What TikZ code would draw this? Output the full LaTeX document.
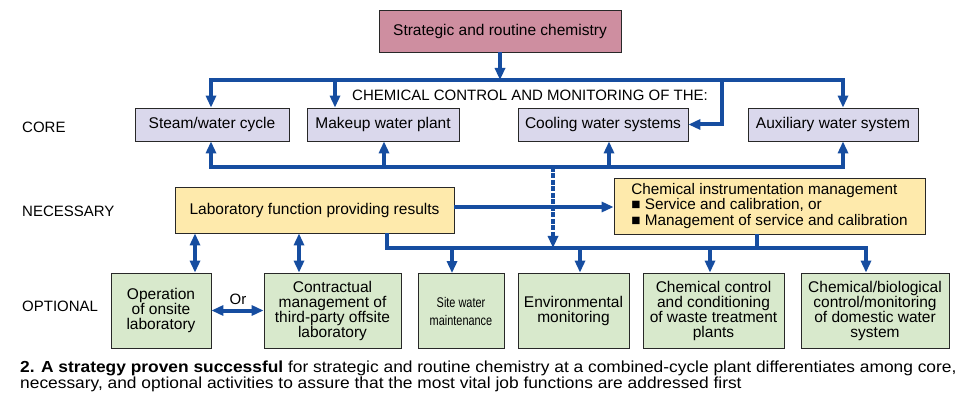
\documentclass[tikz,border=0pt]{standalone}
\usepackage{fontspec}
\setmainfont{Liberation Sans}
\usetikzlibrary{arrows.meta}
\definecolor{pinkc}{RGB}{206,142,160}
\definecolor{lavc}{RGB}{218,216,236}
\definecolor{yelc}{RGB}{254,234,172}
\definecolor{grnc}{RGB}{216,233,204}
\definecolor{bluec}{RGB}{22,77,160}
\definecolor{edgec}{RGB}{40,40,40}
\begin{document}
\begin{tikzpicture}[x=1pt,y=-1pt,
  box/.style={draw=edgec, line width=0.8pt, inner sep=0pt, align=center, font=\fontsize{15.5}{15}\selectfont},
  topbox/.style={box, fill=pinkc},
  corebox/.style={box, fill=lavc, minimum height=33pt},
  needbox/.style={box, fill=yelc},
  optbox/.style={box, fill=grnc, minimum height=75pt},
  bus/.style={draw=bluec, line width=4pt, line join=miter},
  arr/.style={bus, -{Triangle[length=12pt,width=10pt]}},
  darr/.style={bus, {Triangle[length=12pt,width=10pt]}-{Triangle[length=12pt,width=10pt]}},
  dasharr/.style={arr, dash pattern=on 5pt off 1.5pt},
  lbl/.style={font=\fontsize{15}{15}\selectfont, inner sep=0pt, anchor=west},
  caplbl/.style={anchor=base west, inner sep=0pt, font=\fontsize{16}{17}\selectfont}
]
\useasboundingbox (0,0) rectangle (968,403);
\fill[white] (0,0) rectangle (968,403);

% nodes
\node[topbox, minimum width=242pt, minimum height=42pt] (top) at (500,31) {Strategic and routine chemistry};

\node[corebox, minimum width=154pt] (steam) at (212,124.5) {Steam/water cycle};
\node[corebox, minimum width=152pt] (makeup) at (383,124.5) {Makeup water plant};
\node[corebox, minimum width=170pt] (cooling) at (603,124.5) {Cooling water systems};
\node[corebox, minimum width=170pt] (aux) at (833,124.5) {Auxiliary water system};

\node[needbox, minimum width=279pt, minimum height=46pt] (lab) at (314.5,210) {Laboratory function providing results};
\node[needbox, minimum width=311pt, minimum height=56pt, align=left, font=\fontsize{15.3}{15.5}\selectfont] (chem) at (769.5,206)
  {Chemical instrumentation management\\■ Service and calibration, or\\■ Management of service and calibration};

\node[optbox, minimum width=100pt] (op) at (161,310.5) {Operation\\of onsite\\laboratory};
\node[optbox, minimum width=137pt] (contract) at (332.5,310.5) {Contractual\\management of\\third-party offsite\\laboratory};
\node[optbox, minimum width=86pt, font=\fontsize{14}{18}\selectfont] (site) at (461,311) {\scalebox{0.78}[1]{Site water}\\\scalebox{0.78}[1]{maintenance}};
\node[optbox, minimum width=111pt] (env) at (573.5,310.5) {Environmental\\monitoring};
\node[optbox, minimum width=141pt] (chemctl) at (713.5,310.5) {Chemical control\\and conditioning\\of waste treatment\\plants};
\node[optbox, minimum width=148pt] (chembio) at (875,310.5) {Chemical/biological\\control/monitoring\\of domestic water\\system};

% labels
\node[lbl] (lcore) at (22,127) {CORE};
\node[lbl] (lnec) at (22,211) {NECESSARY};
\node[lbl] (lopt) at (22,306) {OPTIONAL};
\node[lbl] (lchem) at (352,95) {CHEMICAL CONTROL AND MONITORING OF THE:};
\node[lbl, anchor=center] (lor) at (238,299) {Or};

% bus coordinates
\coordinate (tbus) at (500,80);
\coordinate (tL) at (211,80);
\coordinate (tR) at (843,80);
\coordinate (tM) at (335,80);
\coordinate (tC) at (722,80);
\coordinate (bL) at (211,167);
\coordinate (bR) at (843,167);
\coordinate (bM) at (384,167);
\coordinate (bC) at (609,167);
\coordinate (bD) at (553,167);
\coordinate (lL) at (387,248);
\coordinate (lR) at (866,248);
\coordinate (lS) at (452,248);
\coordinate (lE) at (580,248);
\coordinate (lW) at (710,248);
\coordinate (lC) at (757,248);
\coordinate (lD) at (553,248);
\coordinate (v1) at (195,250);
\coordinate (v2) at (299,250);

% top connectors
\draw[arr] (top.south) -- (tbus);
\draw[darr] (tL |- steam.north) -- (tL) -- (tR) -- (tR |- aux.north);
\draw[arr] (tM) -- (tM |- makeup.north);
\draw[arr] (tC) |- (cooling.east);

% core bottom bus
\draw[darr] (bL |- steam.south) -- (bL) -- (bR) -- (bR |- aux.south);
\draw[arr] (bM) -- (bM |- makeup.south);
\draw[arr] (bC) -- (bC |- cooling.south);
\draw[dasharr] (bD) -- (lD);

% necessary
\draw[arr] ([yshift=3pt]lab.east) -- ([yshift=3pt]lab.east -| chem.west);
\draw[arr] (lL |- lab.south) -- (lL) -- (lR) -- (lR |- chembio.north);
\draw[bus] (lC |- chem.south) -- (lC);
\draw[arr] (lS) -- (lS |- site.north);
\draw[arr] (lE) -- (lE |- env.north);
\draw[arr] (lW) -- (lW |- chemctl.north);

% optional
\draw[darr] (v1 |- lab.south) -- (v1 |- op.north);
\draw[darr] (v2 |- lab.south) -- (v2 |- contract.north);
\draw[darr] (op.east) -- (contract.west);

% caption
\node[caplbl] (cap1) at (20,372)
  {\scalebox{1.085}[1]{\textbf{2. A strategy proven successful} for strategic and routine chemistry at a combined-cycle plant differentiates among core,}};
\node[caplbl] (cap2) at (20,388.5)
  {\scalebox{1.085}[1]{necessary, and optional activities to assure that the most vital job functions are addressed first}};
\end{tikzpicture}
\end{document}
